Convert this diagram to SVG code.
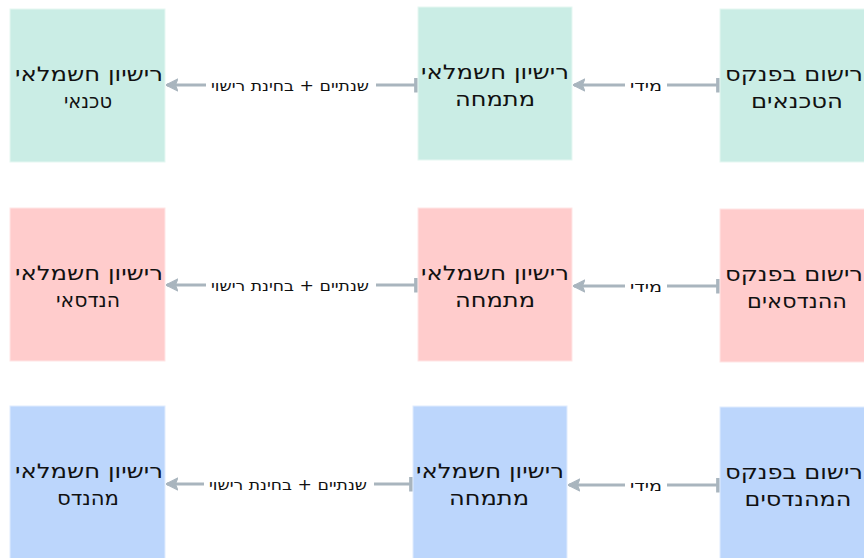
<svg xmlns="http://www.w3.org/2000/svg" width="864" height="558" viewBox="0 0 864 558">
<style>
.g{fill:#caede5;stroke:#e6f7f2;stroke-width:1}
.p{fill:#ffcccc;stroke:#ffe6e6;stroke-width:1}
.b{fill:#bcd6fc;stroke:#e0ecfe;stroke-width:1}
.t{font-family:"DejaVu Sans",sans-serif;font-size:20px;fill:#111;text-anchor:middle;direction:rtl}
.l{font-family:"DejaVu Sans",sans-serif;font-size:15px;fill:#111;text-anchor:middle;direction:rtl}
.c{stroke:#a9b5be;stroke-width:3;fill:none;marker-end:url(#ah);marker-start:url(#bar)}
.lb{fill:#fff}
</style>
<defs>
<marker id="ah" viewBox="0 0 10 10" refX="9" refY="5" markerWidth="4" markerHeight="4.4" orient="auto" markerUnits="strokeWidth">
<path d="M0,0 L10,5 L0,10 L2,5 Z" fill="#a9b5be" stroke="#a9b5be" stroke-linejoin="round"/>
</marker>
<marker id="bar" viewBox="0 0 4 16" refX="2" refY="8" markerWidth="1.3" markerHeight="5" orient="auto" markerUnits="strokeWidth">
<rect x="0" y="0" width="4" height="16" fill="#a9b5be"/>
</marker>
</defs>
<g id="connectors">
<path class="c" d="M718,85 L574,85"/>
<path class="c" d="M416,85 L167,85"/>
<path class="c" d="M718,286 L574,286"/>
<path class="c" d="M416,285 L167,285"/>
<path class="c" d="M718,485 L569,485"/>
<path class="c" d="M411,484 L167,484"/>
<rect class="lb" x="625" y="74" width="42" height="22"/>
<text class="l" x="646" y="91" textLength="32" lengthAdjust="spacingAndGlyphs">מידי</text>
<rect class="lb" x="206" y="74" width="170" height="22"/>
<text class="l" x="290" y="91" textLength="158" lengthAdjust="spacingAndGlyphs">שנתיים + בחינת רישוי</text>
<rect class="lb" x="625" y="275" width="42" height="22"/>
<text class="l" x="646" y="292" textLength="32" lengthAdjust="spacingAndGlyphs">מידי</text>
<rect class="lb" x="206" y="274" width="170" height="22"/>
<text class="l" x="290" y="291" textLength="158" lengthAdjust="spacingAndGlyphs">שנתיים + בחינת רישוי</text>
<rect class="lb" x="625" y="474" width="42" height="22"/>
<text class="l" x="646" y="491" textLength="32" lengthAdjust="spacingAndGlyphs">מידי</text>
<rect class="lb" x="204" y="473" width="170" height="22"/>
<text class="l" x="288" y="490" textLength="158" lengthAdjust="spacingAndGlyphs">שנתיים + בחינת רישוי</text>
</g>
<g id="n1"><rect class="g" x="720" y="9" width="156" height="153"/>
<text class="t" x="794" y="81" textLength="138" lengthAdjust="spacingAndGlyphs">רישום בפנקס</text><text class="t" x="797" y="108" textLength="92" lengthAdjust="spacingAndGlyphs">הטכנאים</text></g>
<g id="n2"><rect class="g" x="418" y="7" width="154" height="153"/>
<text class="t" x="495" y="79" textLength="148" lengthAdjust="spacingAndGlyphs">רישיון חשמלאי</text><text class="t" x="495" y="106" textLength="80" lengthAdjust="spacingAndGlyphs">מתמחה</text></g>
<g id="n3"><rect class="g" x="10" y="9" width="155" height="153"/>
<text class="t" x="89" y="81" textLength="148" lengthAdjust="spacingAndGlyphs">רישיון חשמלאי</text><text class="t" x="88" y="108" textLength="48" lengthAdjust="spacingAndGlyphs">טכנאי</text></g>
<g id="n4"><rect class="p" x="720" y="209" width="156" height="153"/>
<text class="t" x="794" y="281" textLength="138" lengthAdjust="spacingAndGlyphs">רישום בפנקס</text><text class="t" x="797" y="308" textLength="100" lengthAdjust="spacingAndGlyphs">ההנדסאים</text></g>
<g id="n5"><rect class="p" x="418" y="208" width="154" height="153"/>
<text class="t" x="495" y="280" textLength="148" lengthAdjust="spacingAndGlyphs">רישיון חשמלאי</text><text class="t" x="495" y="307" textLength="80" lengthAdjust="spacingAndGlyphs">מתמחה</text></g>
<g id="n6"><rect class="p" x="10" y="208" width="155" height="153"/>
<text class="t" x="89" y="280" textLength="148" lengthAdjust="spacingAndGlyphs">רישיון חשמלאי</text><text class="t" x="88" y="307" textLength="64" lengthAdjust="spacingAndGlyphs">הנדסאי</text></g>
<g id="n7"><rect class="b" x="720" y="407" width="156" height="153"/>
<text class="t" x="794" y="479" textLength="138" lengthAdjust="spacingAndGlyphs">רישום בפנקס</text><text class="t" x="798" y="506" textLength="107" lengthAdjust="spacingAndGlyphs">המהנדסים</text></g>
<g id="n8"><rect class="b" x="413" y="406" width="154" height="153"/>
<text class="t" x="490" y="478" textLength="148" lengthAdjust="spacingAndGlyphs">רישיון חשמלאי</text><text class="t" x="489" y="505" textLength="80" lengthAdjust="spacingAndGlyphs">מתמחה</text></g>
<g id="n9"><rect class="b" x="10" y="406" width="155" height="153"/>
<text class="t" x="89" y="478" textLength="148" lengthAdjust="spacingAndGlyphs">רישיון חשמלאי</text><text class="t" x="88" y="505" textLength="62" lengthAdjust="spacingAndGlyphs">מהנדס</text></g>
</svg>
